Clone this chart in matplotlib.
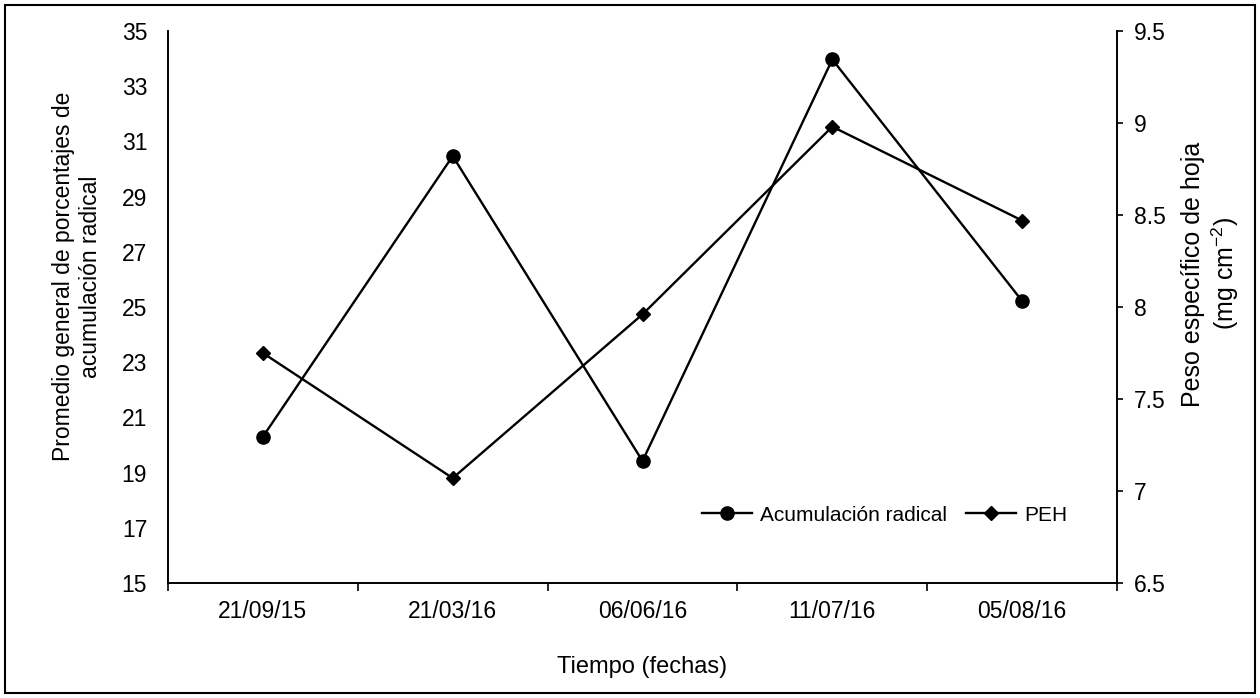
import matplotlib
matplotlib.use("Agg")
import matplotlib.pyplot as plt
from matplotlib.patches import Rectangle

fechas = ["21/09/15", "21/03/16", "06/06/16", "11/07/16", "05/08/16"]
acumulacion = [20.3, 30.47, 19.42, 33.97, 25.22]
peh = [7.75, 7.07, 7.96, 8.98, 8.47]

plt.rcParams['font.family'] = ['Liberation Sans', 'DejaVu Sans']
plt.rcParams['mathtext.fontset'] = 'custom'
plt.rcParams['mathtext.rm'] = 'Liberation Sans'
plt.rcParams['mathtext.it'] = 'Liberation Sans'

fig = plt.figure(figsize=(12.6, 6.98), dpi=100)
ax1 = fig.add_axes([168/1260, 1-583/698, (1117-168)/1260, (583-31)/698])
ax2 = ax1.twinx()

x = list(range(len(fechas)))
l1, = ax1.plot(x, acumulacion, color='black', lw=1.7, marker='o', markersize=9.5, label='Acumulación radical')
l2, = ax2.plot(x, peh, color='black', lw=1.7, marker='D', markersize=7.5, label='PEH')

ax1.set_xlim(-0.5, len(fechas) - 0.5)
ax1.set_ylim(15, 35)
ax1.set_yticks(range(15, 36, 2))
ax2.set_ylim(6.5, 9.5)
ax2.set_yticks([6.5, 7, 7.5, 8, 8.5, 9, 9.5])
ax2.set_yticklabels(['6.5', '7', '7.5', '8', '8.5', '9', '9.5'])

ax1.set_xticks([i - 0.5 for i in range(len(fechas) + 1)])
ax1.set_xticklabels([])
ax1.set_xticks(x, minor=True)
ax1.set_xticklabels(fechas, minor=True)
ax1.tick_params(axis='x', which='major', direction='out', length=6, width=1.2)
ax1.tick_params(axis='x', which='minor', length=0, pad=12, labelsize=16.5)
ax1.tick_params(axis='y', length=0, pad=15, labelsize=16.5)
ax2.tick_params(axis='y', direction='out', length=4, width=1.2, pad=8, labelsize=16.5)

for ax in (ax1, ax2):
    ax.spines['top'].set_visible(False)
    for s in ('left', 'right', 'bottom'):
        ax.spines[s].set_linewidth(1.2)

ax1.set_xlabel('Tiempo (fechas)', fontsize=17, labelpad=24)
ax1.set_ylabel('Promedio general de porcentajes de\nacumulación radical', fontsize=16.5)
ax1.yaxis.set_label_coords(-0.07, 0.555)
ax2.set_ylabel('Peso específico de hoja\n(mg cm$^{-2}$)', fontsize=18)
ax2.yaxis.set_label_coords(1.067, 0.56)

ax1.legend([l1, l2], ['Acumulación radical', 'PEH'], loc='center left', ncol=2, frameon=False,
           fontsize=15, bbox_to_anchor=(0.554, 0.123), borderaxespad=0, handlelength=2.4,
           columnspacing=0.9, handletextpad=0.4)

fig.patches.append(Rectangle((5/1260, 5/698), 1250/1260, 688/698, transform=fig.transFigure,
                             fill=False, edgecolor='black', lw=1.5))

fig.savefig('out.png', dpi=100)
